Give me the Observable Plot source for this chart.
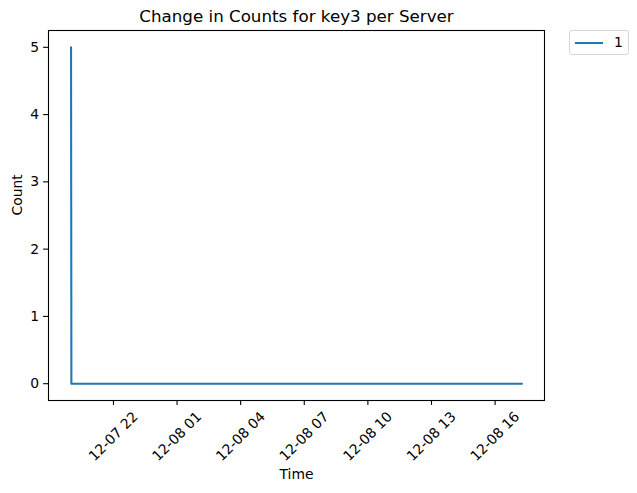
<!DOCTYPE html>
<html>
<head>
<meta charset="utf-8">
<script src="https://cdn.jsdelivr.net/npm/d3@7"></script>
<script src="https://cdn.jsdelivr.net/npm/@observablehq/plot@0.6"></script>
<style>
  html, body { margin: 0; padding: 0; background: #fff; }
  #wrap { position: relative; width: 637px; height: 493px; font-family: "DejaVu Sans", sans-serif; }
  #legend { position: absolute; left: 569px; top: 30px; width: 58px; height: 23px;
    border: 1px solid #d6d6d6; border-radius: 3px; background: rgba(255,255,255,0.8); box-sizing: content-box; }
  #legend .sw { position: absolute; left: 5px; top: 11px; width: 28px; height: 2px; background: #1f77b4; }
  #legend .lb { position: absolute; left: 44px; top: 3px; font-size: 13.9px; line-height: 16px; color: #000; }
</style>
</head>
<body>
<div id="wrap"></div>
<script>
// Data
const times = ["2023-12-07T20:00", "2023-12-07T20:01", "2023-12-07T22:00", "2023-12-08T04:00", "2023-12-08T10:00", "2023-12-08T17:16"];
const counts = [5, 0, 0, 0, 0, 0];
const seriesName = "1";
const xTickTimes = ["2023-12-07T22:00", "2023-12-08T01:00", "2023-12-08T04:00", "2023-12-08T07:00", "2023-12-08T10:00", "2023-12-08T13:00", "2023-12-08T16:00"];
const xTickLabels = ["12-07 22", "12-08 01", "12-08 04", "12-08 07", "12-08 10", "12-08 13", "12-08 16"];
const yTicks = [0, 1, 2, 3, 4, 5];
const titleText = "Change in Counts for key3 per Server";
const xLabel = "Time";
const yLabel = "Count";

const data = times.map((t, i) => ({time: new Date(t), count: counts[i]}));
const tickDates = xTickTimes.map(t => new Date(t));

const ext = d3.extent(data, d => d.time);
const span = ext[1] - ext[0];
const xDomain = [new Date(+ext[0] - 0.05 * span), new Date(+ext[1] + 0.05 * span)];
const yExt = d3.extent(counts);
const ySpan = yExt[1] - yExt[0];
const yDomain = [yExt[0] - 0.05 * ySpan, yExt[1] + 0.05 * ySpan];

const fs = 13.9;
const chart = Plot.plot({
  width: 637,
  height: 493,
  marginTop: 30,
  marginLeft: 48,
  marginRight: 93,
  marginBottom: 93,
  style: {fontFamily: "DejaVu Sans", fontSize: fs + "px", color: "#000", background: "#fff"},
  x: {type: "utc", domain: xDomain},
  y: {domain: yDomain},
  marks: [
    Plot.line(data, {x: "time", y: "count", stroke: "#1f77b4", strokeWidth: 2.08}),
    Plot.frame({stroke: "#000", strokeWidth: 1.1}),
    Plot.axisY({ticks: yTicks, tickFormat: d3.format("d"), tickSize: 4.9, tickPadding: 4.5, label: null, fontSize: fs, strokeWidth: 1.1}),
    Plot.axisX({ticks: tickDates, tickSize: 4.9, tickFormat: () => "", label: null, strokeWidth: 1.1}),
    Plot.text(tickDates, {x: d => d, text: (d, i) => xTickLabels[i], frameAnchor: "bottom", lineAnchor: "middle", dy: 36, rotate: -45, fontSize: fs, fill: "#000"}),
    Plot.text([xLabel], {text: d => d, frameAnchor: "bottom", lineAnchor: "middle", dy: 74, fontSize: fs, fill: "#000"}),
    Plot.text([yLabel], {text: d => d, frameAnchor: "left", lineAnchor: "middle", dx: -31, rotate: -90, fontSize: fs, fill: "#000"}),
    Plot.text([titleText], {text: d => d, frameAnchor: "top", lineAnchor: "middle", dy: -14, fontSize: 16.7, fill: "#000"})
  ]
});

const wrap = document.getElementById("wrap");
wrap.appendChild(chart);
const leg = document.createElement("div");
leg.id = "legend";
leg.innerHTML = '<div class="sw"></div><div class="lb"></div>';
leg.querySelector(".lb").textContent = seriesName;
wrap.appendChild(leg);
</script>
</body>
</html>
